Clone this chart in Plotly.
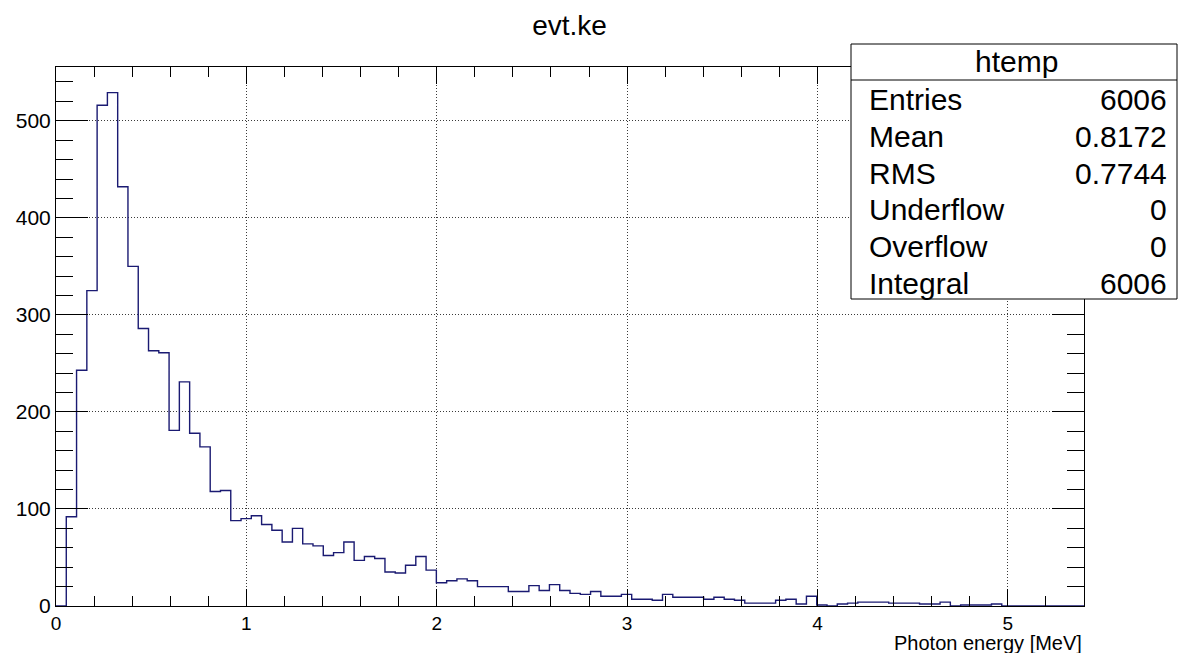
import numpy as np
import plotly.graph_objects as go

# ---------------- data ----------------
title_text = "evt.ke"
x_title = "Photon energy [MeV]"
x_min, x_max, n_bins = 0.0, 5.4, 100
counts = [
    0, 92, 243, 325, 516, 529, 432, 350, 286, 263,
    261, 181, 231, 178, 164, 118, 119, 88, 90, 93,
    84, 78, 66, 80, 64, 62, 52, 55, 66, 47,
    51, 49, 35, 34, 42, 51, 37, 24, 26, 28,
    26, 20, 20, 20, 15, 15, 21, 16, 22, 16,
    13, 12, 15, 10, 10, 12, 7, 7, 6, 12,
    9, 9, 9, 7, 9, 7, 6, 3, 3, 3,
    6, 7, 2, 10, 1, 0, 2, 3, 4, 4,
    4, 3, 3, 3, 2, 2, 4, 0, 1, 1,
    1, 2, 0, 0, 0, 0, 0, 0, 0, 0,
]
stats_title = "htemp"
stats_labels = ["Entries", "Mean", "RMS", "Underflow", "Overflow", "Integral"]
stats_values = ["6006", "0.8172", "0.7744", "0", "0", "6006"]

# ---------------- geometry helpers ----------------
W, H = 1178, 653
L, R, T, B = 56, 1084, 67, 606


def px(x):
    return (x - L) / (R - L)


def py(y):
    return (B - y) / (B - T)


FONT = "Liberation Sans, Arial, Helvetica, sans-serif"
LINE_COLOR = "#1a1a72"

edges = np.linspace(x_min, x_max, n_bins + 1)
xs = list(edges)
ys = list(counts) + [counts[-1]]

y_max = 1.05 * max(counts)

fig = go.Figure()
fig.add_trace(go.Scatter(
    x=xs, y=ys, mode="lines", line=dict(shape="hv", color=LINE_COLOR, width=1.4),
    hoverinfo="skip", showlegend=False,
))

axis_common = dict(
    showline=True, linecolor="black", linewidth=1, mirror="allticks",
    ticks="inside", tickcolor="black", tickwidth=1,
    showgrid=True, gridcolor="#3a3a3a", gridwidth=1, griddash="1px,2px",
    zeroline=False,
)

fig.update_xaxes(
    range=[x_min, x_max], tick0=0, dtick=1, ticklen=17,
    minor=dict(dtick=0.2, tick0=0, ticks="inside", ticklen=10, tickcolor="black", showgrid=False),
    tickfont=dict(family=FONT, color="black", size=19),
    **axis_common,
)
fig.update_yaxes(
    range=[0, y_max], tick0=0, dtick=100, ticklen=32,
    minor=dict(dtick=20, tick0=0, ticks="inside", ticklen=17, tickcolor="black", showgrid=False),
    tickfont=dict(family=FONT, color="black", size=21),
    **axis_common,
)

shapes = [
    dict(type="rect", xref="paper", yref="paper",
         x0=px(851), x1=px(1177), y0=py(299), y1=py(44),
         fillcolor="white", line=dict(color="black", width=1), layer="above"),
    dict(type="line", xref="paper", yref="paper",
         x0=px(851), x1=px(1177), y0=py(80), y1=py(80),
         line=dict(color="black", width=1), layer="above"),
]

annotations = [
    dict(text=stats_title, xref="paper", yref="paper", x=px(1016), y=py(62),
         xanchor="center", yanchor="middle", showarrow=False,
         font=dict(family=FONT, size=30, color="black")),
    dict(text=x_title, xref="paper", yref="paper", x=px(1084), y=py(643),
         xanchor="right", yanchor="middle", showarrow=False,
         font=dict(family=FONT, size=20, color="black")),
]
row_y = [100, 136.7, 173.4, 210, 246.8, 283.5]
for lab, val, yy in zip(stats_labels, stats_values, row_y):
    annotations.append(dict(text=lab, xref="paper", yref="paper", x=px(867), y=py(yy),
                            xanchor="left", yanchor="middle", showarrow=False,
                            font=dict(family=FONT, size=30, color="black")))
    annotations.append(dict(text=val, xref="paper", yref="paper", x=px(1169), y=py(yy),
                            xanchor="right", yanchor="middle", showarrow=False,
                            font=dict(family=FONT, size=30, color="black")))

fig.update_layout(
    width=W, height=H,
    margin=dict(l=L, r=W - R, t=T, b=H - B, pad=0),
    paper_bgcolor="white", plot_bgcolor="white",
    title=dict(text=title_text, x=569.5 / W, xref="container", xanchor="center",
               y=1 - 25 / H, yref="container", yanchor="middle",
               font=dict(family=FONT, size=28, color="black")),
    shapes=shapes, annotations=annotations,
    showlegend=False,
)

fig.write_html("out.html")
